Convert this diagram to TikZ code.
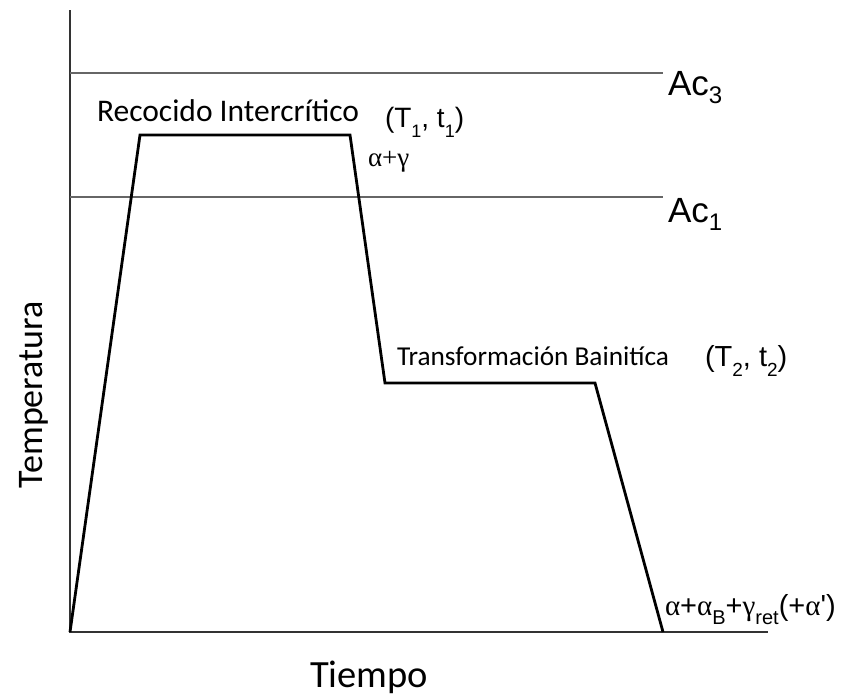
\documentclass[tikz,border=0pt]{standalone}
\usepackage{fontspec}
\newfontfamily\calf{Carlito}
\newfontfamily\arif{Liberation Sans}
\newfontfamily\timf{Liberation Serif}
\newcommand\lowr[3]{\raisebox{-#1pt}{\fontsize{#2}{#2}\selectfont #3}}
\tikzset{
  axisline/.style={line width=2.6pt, draw=black!80},
  refline/.style={line width=1.6pt, draw=black!60},
  cycle/.style={line width=2.8pt, draw=black, line join=miter},
  lbl/.style={anchor=base west, inner sep=0pt, outer sep=0pt, text=black},
}
\begin{document}
\begin{tikzpicture}[x=1pt,y=-1pt]
\useasboundingbox (0,0) rectangle (849,696);
% axes
\coordinate (ytop) at (70,10);
\coordinate (o) at (70,632);
\coordinate (xend) at (768,632);
\draw[axisline] (ytop) -- (o) -- (xend);
% critical lines
\coordinate (ac3a) at (70,73);
\coordinate (ac3b) at (663,73);
\coordinate (ac1a) at (70,197);
\coordinate (ac1b) at (663,197);
\draw[refline] (ac3a) -- (ac3b);
\draw[refline] (ac1a) -- (ac1b);
% heat treatment cycle
\coordinate (p1) at (140,135);
\coordinate (p2) at (350,135);
\coordinate (p3) at (385,383);
\coordinate (p4) at (595,383);
\coordinate (p5) at (663,632);
\draw[cycle] (o) -- (p1) -- (p2) -- (p3) -- (p4) -- (p5);
% labels
\node[lbl] (lac3) at (668,95) {\arif\fontsize{35}{35}\selectfont Ac\lowr{8}{24}{3}};
\node[lbl] (lac1) at (668,222) {\arif\fontsize{35}{35}\selectfont Ac\lowr{8}{24}{1}};
\node[lbl] (lrec) at (97,121) {\calf\fontsize{31.5}{31.5}\selectfont Recocido Intercrítico};
\node[lbl] (lt1) at (385,127) {\arif\fontsize{28}{28}\selectfont (T\lowr{10}{18}{1}, t\lowr{10}{18}{1})};
\node[lbl] (lag) at (368,166) {\timf\fontsize{27}{27}\selectfont α+γ};
\node[lbl] (ltra) at (397,365) {\calf\fontsize{27.3}{27.3}\selectfont Transformación Bainitíca};
\node[lbl] (lt2) at (705,366) {\arif\fontsize{29}{29}\selectfont (T\lowr{10}{19}{2}, t\lowr{10}{19}{2})};
\node[lbl] (lfin) at (665,615) {\arif\fontsize{29}{29}\selectfont {\timf α}+{\timf α}\lowr{9}{20}{B}+{\timf γ}\lowr{9}{20}{ret}(+{\timf α}')};
\node[lbl] (ltie) at (310,687) {\calf\fontsize{38.5}{38.5}\selectfont Tiempo};
\node[lbl, rotate=90] (ltem) at (42,488) {\calf\fontsize{36}{36}\selectfont Temperatura};
\end{tikzpicture}
\end{document}
